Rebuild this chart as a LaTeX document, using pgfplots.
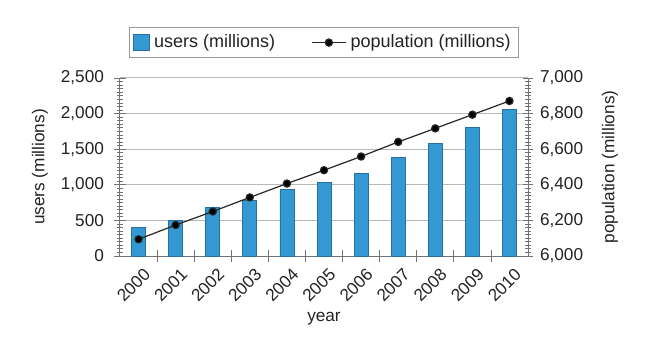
\documentclass[border=0pt]{standalone}
\usepackage{pgfplots}
\pgfplotsset{compat=1.18}
\usepackage{fontspec}
\setmainfont{Liberation Sans}
\definecolor{barblue}{RGB}{52,152,210}
\definecolor{baredge}{RGB}{38,112,165}
\definecolor{txt}{RGB}{35,35,35}
\begin{document}
\begin{tikzpicture}
\useasboundingbox (-60pt,-49pt) rectangle (268.5pt,128pt);
\pgfplotsset{
 common/.style={scale only axis, width=204pt, height=89pt, xmin=-0.5, xmax=10.5,
   /pgf/number format/assume math mode=true,
   /pgf/number format/1000 sep={,},
   tick label style={font=\fontsize{8.6}{10}\selectfont, text=txt},
   label style={font=\fontsize{8.6}{10}\selectfont, text=txt},
   tick align=center, major tick length=5pt, minor tick length=3pt,
   every tick/.style={black!55, line width=0.4pt},
   axis line style={black!55, line width=0.5pt},
   minor y tick num=9}
}
\begin{axis}[common,
  axis x line*=bottom, axis y line*=left,
  ymin=0, ymax=2500, ytick={0,500,...,2500},
  y tick label style={xshift=-1.5pt},
  ymajorgrids, grid style={black!28, line width=0.5pt},
  xtick={0.5,1.5,...,9.5}, xticklabels={},
  major tick length=6pt,
  extra x ticks={0,1,2,3,4,5,6,7,8,9,10},
  extra x tick labels={2000,2001,2002,2003,2004,2005,2006,2007,2008,2009,2010},
  extra x tick style={major tick length=0pt, grid=none,
     tick label style={rotate=45, anchor=north east, xshift=1pt, yshift=-2pt}},
  xlabel={year},
  xlabel style={at={(axis description cs:0.5,0)}, yshift=-31.5pt, anchor=center},
  ylabel={users (millions)},
  ylabel style={at={(axis description cs:0,0.5)}, yshift=40pt, anchor=center},
  legend columns=2,
  legend style={at={(0.5,1)}, anchor=south, yshift=10pt, draw=black!40,
     font=\fontsize{9}{11}\selectfont, text=txt, inner xsep=2pt, inner ysep=1.5pt,
     /tikz/every even column/.append style={column sep=16pt}},
]
\addplot[ybar, bar width=7pt, fill=barblue, draw=baredge, line width=0.4pt,
  legend image code/.code={\draw[fill=barblue, draw=baredge] (0pt,-4pt) rectangle (8pt,4pt);}]
  coordinates {(0,406) (1,500) (2,682) (3,780) (4,930) (5,1033) (6,1155) (7,1379) (8,1575) (9,1803) (10,2056)};
\addlegendentry{users (millions)}
\addlegendimage{black!85, line width=0.6pt, mark=*, mark size=1.8pt, mark options={fill=black}}
\addlegendentry{population (millions)}
\end{axis}
\begin{axis}[common,
  axis x line=none, axis y line*=right,
  ymin=6000, ymax=7000, ytick={6000,6200,...,7000},
  ylabel={population (millions)},
  ylabel style={at={(axis description cs:1,0.5)}, yshift=-41pt, anchor=center},
]
\addplot[black!85, line width=0.6pt, mark=*, mark size=1.8pt, mark options={fill=black}]
  coordinates {(0,6094) (1,6174) (2,6250) (3,6329) (4,6407) (5,6482) (6,6559) (7,6641) (8,6717) (9,6794) (10,6871)};
\end{axis}
\end{tikzpicture}
\end{document}
